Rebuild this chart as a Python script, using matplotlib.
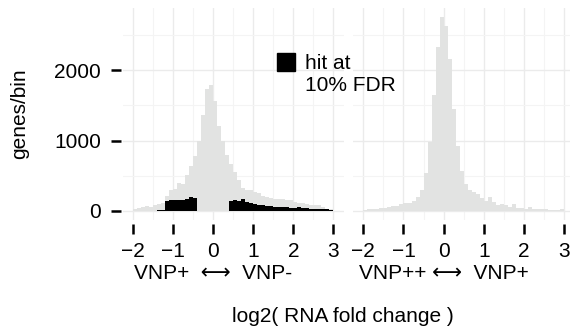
import numpy as np
import matplotlib
matplotlib.use("Agg")
import matplotlib.pyplot as plt
from matplotlib.patches import Rectangle

plt.rcParams['font.family'] = ['Liberation Sans', 'DejaVu Sans']

# histogram bins: log2 fold change, 0.1 wide, from -2 to 3
bin_lo, bin_hi, bin_w = -2.0, 3.0, 0.1
edges = np.arange(bin_lo, bin_hi + bin_w / 2, bin_w)

# VNP+ vs VNP- : all genes per bin
all_left = [20, 40, 55, 65, 50, 80, 100, 110, 207, 300,
            310, 390, 380, 507, 636, 779, 993, 1364, 1731, 1793,
            1569, 1207, 993, 800, 664, 557, 436, 317, 300, 290,
            270, 250, 210, 190, 185, 165, 165, 160, 150, 148,
            120, 112, 110, 95, 80, 75, 72, 55, 25, 20]
# VNP+ vs VNP- : hits at 10% FDR per bin
hit_left = [0, 0, 0, 0, 0, 0, 8, 10, 140, 150,
            150, 152, 155, 160, 195, 180, 0, 0, 0, 0,
            0, 0, 0, 0, 130, 150, 130, 165, 115, 105,
            100, 80, 75, 60, 62, 55, 50, 45, 45, 40,
            38, 45, 35, 30, 28, 25, 22, 20, 15, 12]
# VNP++ vs VNP+ : all genes per bin
all_right = [10, 15, 18, 22, 30, 38, 45, 62, 70, 95,
             110, 105, 140, 195, 300, 540, 985, 1650, 2330, 2760,
             2630, 2160, 1450, 925, 560, 380, 300, 260, 230, 175,
             130, 195, 120, 85, 95, 75, 50, 95, 35, 30,
             20, 45, 20, 18, 17, 15, 12, 10, 10, 18]

xticks = [-2, -1, 0, 1, 2, 3]
yticks = [0, 1000, 2000]
left_lab = "VNP+  \u27f7  VNP-"
right_lab = "VNP++ \u27f7  VNP+"

GREY = '#e2e3e2'
FS = 15

fig = plt.figure(figsize=(5.7, 3.35), dpi=100)
W, H = 570.0, 335.0


def px_axes(x0, y0, x1, y1):
    return fig.add_axes([x0 / W, 1 - y1 / H, (x1 - x0) / W, (y1 - y0) / H])


ax1 = px_axes(122.7, 7.6, 343.5, 220.2)
ax2 = px_axes(353.3, 7.6, 574.1, 220.2)

for ax in (ax1, ax2):
    ax.set_xlim(-2.25, 3.25)
    ax.set_ylim(-138, 2898)
    ax.set_axisbelow(True)
    ax.set_xticks(xticks)
    ax.set_xticks(np.arange(-1.5, 3, 1.0), minor=True)
    ax.set_yticks(yticks)
    ax.set_yticks([500, 1500, 2500], minor=True)
    ax.grid(which='major', color='#ebebeb', linewidth=1.0)
    ax.grid(which='minor', color='#f4f4f4', linewidth=0.8)
    for s in ax.spines.values():
        s.set_visible(False)
    ax.spines['bottom'].set_position(('outward', 3))
    ax.spines['left'].set_position(('outward', 1))
    ax.tick_params(axis='x', which='major', length=7.5, width=1.8,
                   color='black', pad=5, labelsize=FS)
    ax.tick_params(which='minor', length=0)
    ax.tick_params(axis='y', which='major', length=7.5, width=1.8,
                   color='black', pad=7, labelsize=FS)

ax1.bar(edges[:-1], all_left, width=bin_w, align='edge', color=GREY, linewidth=0)
ax1.bar(edges[:-1], hit_left, width=bin_w, align='edge', color='black', linewidth=0)
ax2.bar(edges[:-1], all_right, width=bin_w, align='edge', color=GREY, linewidth=0)
ax2.tick_params(axis='y', left=False, labelleft=False)

# direction labels under each panel, centred on zero
for ax, lab in ((ax1, left_lab), (ax2, right_lab)):
    ax.text(0, -0.25, lab, transform=ax.get_xaxis_transform(),
            ha='center', va='center', fontsize=FS)

fig.text(20 / W, 1 - 114 / H, 'genes/bin', rotation=90,
         ha='center', va='center', fontsize=FS)
fig.text(343 / W, 1 - 316 / H, 'log2( RNA fold change )',
         ha='center', va='center', fontsize=FS)

# legend key
fig.add_artist(Rectangle((277 / W, 1 - 71 / H), 18 / W, 18 / H,
                         transform=fig.transFigure, color='black'))
fig.text(305 / W, 1 - 74.5 / H, 'hit at\n10% FDR', ha='left', va='center',
         fontsize=FS, linespacing=1.25)

fig.savefig('out.png', dpi=100)
